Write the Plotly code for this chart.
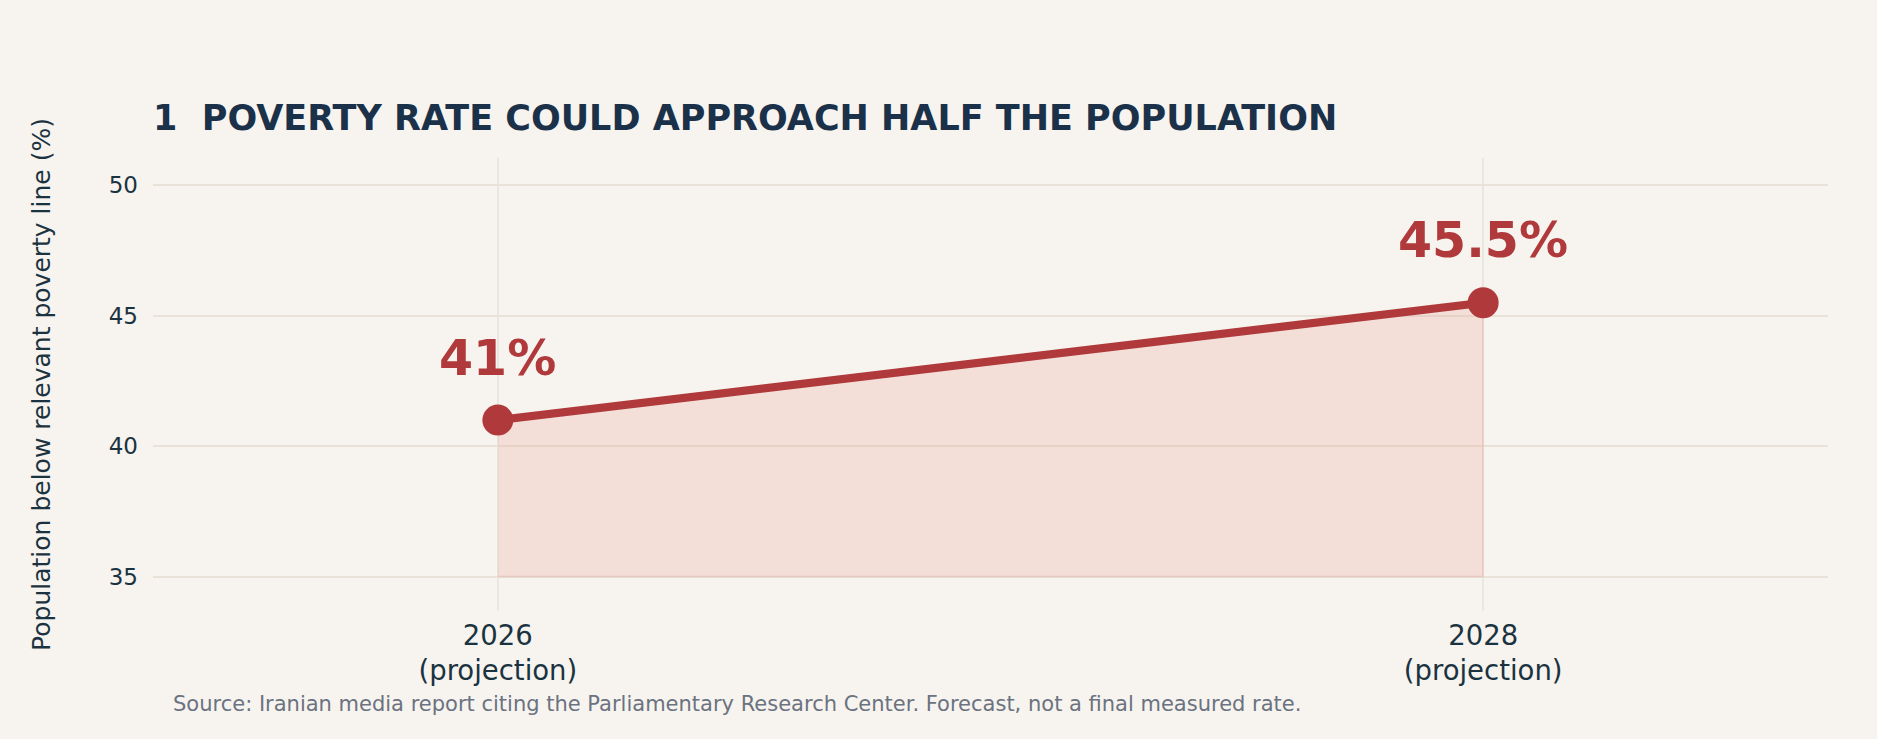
import plotly.graph_objects as go

# data
years = [2026, 2028]
year_labels = ["2026<br>(projection)", "2028<br>(projection)"]
poverty_rate = [41, 45.5]
rate_labels = ["41%", "45.5%"]
fill_floor = 35

RED = "#b0393b"
BG = "#f7f4ef"
FONT = "DejaVu Sans"

fig = go.Figure()

# shaded area between the floor and the line
fig.add_trace(go.Scatter(
    x=years + years[::-1],
    y=poverty_rate + [fill_floor] * len(years),
    fill="toself",
    fillcolor="rgba(230,150,135,0.22)",
    line=dict(color="rgba(225,120,110,0.15)", width=2),
    mode="lines",
    hoverinfo="skip",
    showlegend=False,
))

fig.add_trace(go.Scatter(
    x=years,
    y=poverty_rate,
    mode="lines+markers",
    line=dict(color=RED, width=8),
    marker=dict(color=RED, size=31),
    showlegend=False,
))

for x, y, t in zip(years, poverty_rate, rate_labels):
    fig.add_annotation(
        x=x, y=y, text="<b>%s</b>" % t, showarrow=False,
        yanchor="middle", yshift=62,
        font=dict(family=FONT, size=49, color=RED),
    )

fig.add_annotation(
    xref="paper", yref="paper", x=0.0107, y=-0.205,
    xanchor="left", yanchor="middle", showarrow=False,
    text="Source: Iranian media report citing the Parliamentary Research Center. Forecast, not a final measured rate.",
    font=dict(family=FONT, size=21, color="#6b7280"),
)

fig.update_layout(
    width=1877, height=739,
    paper_bgcolor=BG, plot_bgcolor=BG,
    margin=dict(l=153, r=49, t=158, b=128),
    font=dict(family=FONT, color="#1b3340"),
    title=dict(
        text="<b>1  POVERTY RATE COULD APPROACH HALF THE POPULATION</b>",
        xref="paper", x=0, xanchor="left",
        yref="container", y=0.84, yanchor="middle",
        font=dict(family=FONT, size=35, color="#1b3149"),
    ),
)

fig.update_xaxes(
    range=[2025.3, 2028.7],
    tickvals=years, ticktext=year_labels,
    showgrid=True, gridcolor="#ebe7e0", gridwidth=2,
    zeroline=False, showline=False,
    tickfont=dict(family=FONT, size=27.5, color="#1b3340"),
    ticklabelstandoff=5,
)

fig.update_yaxes(
    range=[33.68, 51.05],
    tickvals=[35, 40, 45, 50],
    showgrid=True, gridcolor="#e8e2d9", gridwidth=2,
    zeroline=False, showline=False,
    tickfont=dict(family=FONT, size=23, color="#1b3340"),
    ticklabelstandoff=14,
    title=dict(text="Population below relevant poverty line (%)",
               font=dict(family=FONT, size=25, color="#1b3340"),
               standoff=50),
)

fig.write_html("out.html", config={"displayModeBar": False},
               post_script="document.body.style.margin='0';")
